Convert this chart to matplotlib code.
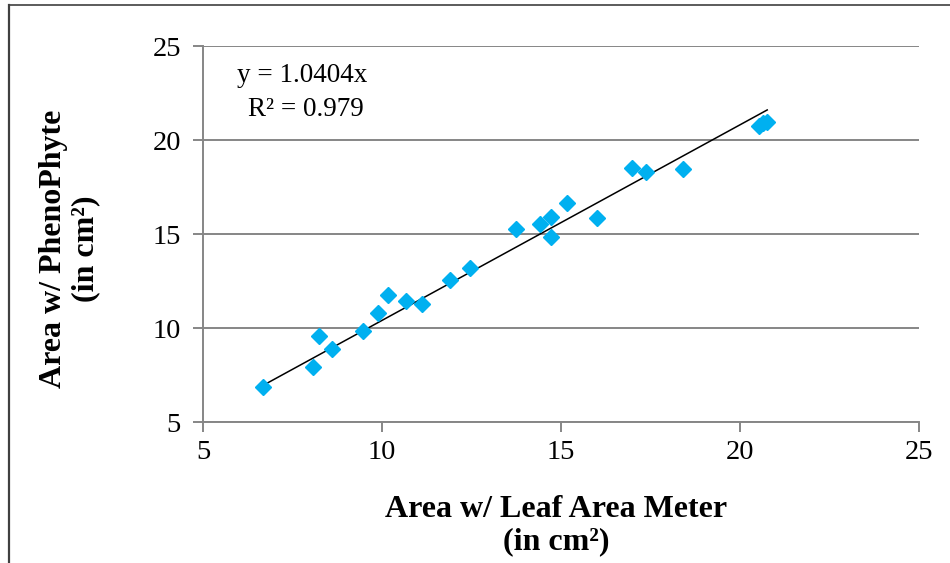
import matplotlib
matplotlib.use("Agg")
import matplotlib.pyplot as plt
import numpy as np
from matplotlib.lines import Line2D

plt.rcParams['font.family'] = ['Liberation Serif', 'DejaVu Serif']

leaf_area_meter = [6.68, 8.06, 8.25, 8.61, 9.46, 9.90, 10.18, 10.68, 11.11,
                   11.90, 12.46, 13.74, 14.41, 14.71, 14.71, 15.16, 16.00,
                   16.97, 17.37, 18.42, 20.54, 20.64, 20.76]
phenophyte = [6.88, 7.94, 9.57, 8.87, 9.86, 10.78, 11.76, 11.42, 11.26,
              12.55, 13.18, 15.25, 15.52, 15.92, 14.82, 16.66, 15.87,
              18.49, 18.28, 18.44, 20.76, 20.90, 20.97]
slope = 1.0404
r2 = 0.979
ticks = [5, 10, 15, 20, 25]
xlabel = "Area w/ Leaf Area Meter\n(in cm²)"
ylabel = "Area w/ PhenoPhyte\n(in cm²)"

W, H = 950, 563
fig = plt.figure(figsize=(W/100, H/100), dpi=100)
ax = fig.add_axes([203/W, 1-422/H, (919-203)/W, (422-46)/H])

gray = '#868686'
ax.set_xlim(5, 25)
ax.set_ylim(5, 25)
ax.set_xticks(ticks)
ax.set_yticks(ticks)
ax.yaxis.grid(True, color=gray, linewidth=1.4)
ax.set_axisbelow(True)
for s in ['top', 'right']:
    ax.spines[s].set_visible(False)
for s in ['left', 'bottom']:
    ax.spines[s].set_color(gray)
    ax.spines[s].set_linewidth(1.4)
ax.tick_params(axis='both', direction='out', length=7, width=1.4, color=gray,
               labelsize=20.5, pad=6)
ax.tick_params(axis='y', pad=9)

x = np.array(leaf_area_meter)
xs = np.array([x.min(), x.max()])
ax.plot(xs, slope*xs, color='black', linewidth=1.1, zorder=3)
ax.plot(x, phenophyte, linestyle='none', marker='D', markersize=8,
        color='#00B0F0', markeredgecolor='#00B0F0', zorder=4)

fig.text(237/W, 1-76/H, f"y = {slope:.4f}x", fontsize=19.5, va='center', ha='left')
fig.text(248/W, 1-110/H, f"R² = {r2}", fontsize=19.5, va='center', ha='left')

fig.text(556/W, 1-526/H, xlabel, fontsize=23, fontweight='bold',
         ha='center', va='center', multialignment='center', linespacing=1.15)
fig.text(70/W, 1-249/H, ylabel, fontsize=23, fontweight='bold', rotation=90,
         ha='center', va='center', multialignment='center', linespacing=1.15)

fig.add_artist(Line2D([9/W, 9/W], [0, 1-5/H], transform=fig.transFigure,
                      color='#404040', linewidth=1.6))
fig.add_artist(Line2D([9/W, 1], [1-5/H, 1-5/H], transform=fig.transFigure,
                      color='#404040', linewidth=1.2))

fig.savefig("out.png", dpi=100)
